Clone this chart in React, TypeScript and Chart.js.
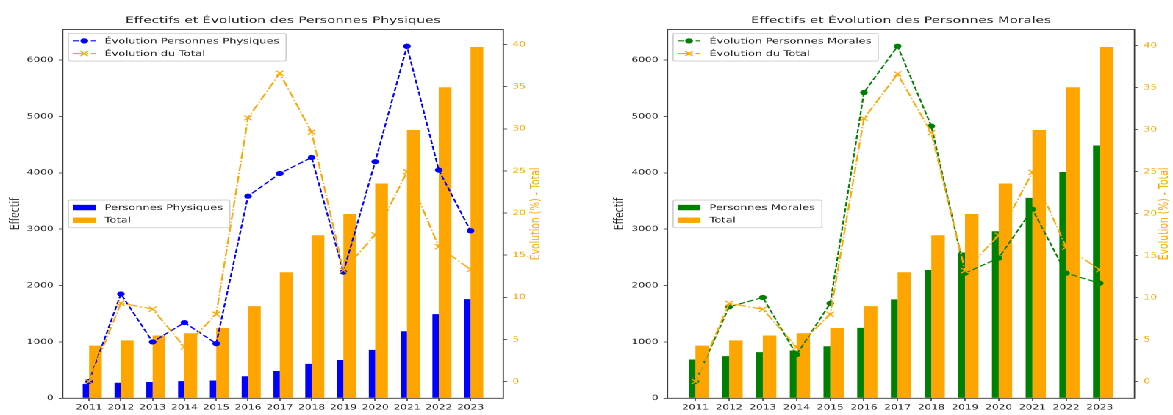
import React, { useEffect, useRef } from "react";
import { Chart, registerables } from "chart.js";

Chart.register(...registerables);

// ---------- data ----------
const YEARS = [2011, 2012, 2013, 2014, 2015, 2016, 2017, 2018, 2019, 2020, 2021, 2022, 2023];
const PP_COUNTS = [255, 275, 290, 305, 315, 390, 485, 610, 680, 858, 1190, 1492, 1760];
const PM_COUNTS = [688, 747, 818, 847, 923, 1250, 1755, 2275, 2585, 2962, 3555, 4015, 4485];
const TOTAL_COUNTS = [934, 1028, 1115, 1153, 1248, 1635, 2235, 2893, 3268, 3810, 4758, 5518, 6230];
const PP_EVOL = [0, 10.4, 4.7, 7.0, 4.5, 22.0, 24.7, 26.6, 13.0, 26.1, 39.8, 25.1, 17.9];
const PM_EVOL = [0, 8.9, 10.0, 3.2, 9.3, 34.4, 39.9, 30.4, 12.9, 14.7, 20.5, 12.9, 11.7];
const TOTAL_EVOL = [0, 9.3, 8.6, 4.1, 8.0, 31.3, 36.6, 29.6, 13.2, 17.4, 24.9, 16.0, 13.3];
const COUNT_TICKS = [0, 1000, 2000, 3000, 4000, 5000, 6000];
const EVOL_TICKS = [0, 5, 10, 15, 20, 25, 30, 35, 40];

const TITLE_PP = "Effectifs et Évolution des Personnes Physiques";
const TITLE_PM = "Effectifs et Évolution des Personnes Morales";
const Y_TITLE = "Effectif";
const Y2_TITLE = "Évolution (%) - Total";
const LBL_PP = "Personnes Physiques";
const LBL_PM = "Personnes Morales";
const LBL_TOTAL = "Total";
const LBL_EVOL_PP = "Évolution Personnes Physiques";
const LBL_EVOL_PM = "Évolution Personnes Morales";
const LBL_EVOL_TOTAL = "Évolution du Total";

// ---------- styling / layout ----------
const PAGE_W = 1173;
const PAGE_H = 415;
const CANVAS_W = 399; // logical width of each canvas
const SX = PAGE_W / (2 * CANVAS_W); // horizontal stretch of the picture
const PT = 0.77; // logical px per point
const FONT = '"DejaVu Sans", "Liberation Sans", sans-serif';
const TEXT = "#222222";
const SPINE = "#3a3a3a";
const BLUE = "#0000ff";
const ORANGE = "#ffa500";
const GREEN = "#008000";
const TICK_SIZE = 7.2;
const LABEL_SIZE = 12 * PT;
const TITLE_SIZE = 12 * PT;
const LEG_SIZE = 10 * PT;
const LW = 1.5 * PT;
const DASHED = [3.7 * LW, 1.6 * LW];
const DASHDOT = [6.4 * LW, 1.6 * LW, 1 * LW, 1.6 * LW];
const AREA_TOP = 29.5;
const AREA_BOTTOM = 398.3;

type PanelSpec = {
  title: string;
  barLabel: string;
  evolLabel: string;
  counts: number[];
  evol: number[];
  color: string;
  canvasLeftPage: number;
  leftPage: number;
  rightPage: number;
  yTitlePage: number;
  y2TitlePage: number;
};

const PANELS: PanelSpec[] = [
  {
    title: TITLE_PP,
    barLabel: LBL_PP,
    evolLabel: LBL_EVOL_PP,
    counts: PP_COUNTS,
    evol: PP_EVOL,
    color: BLUE,
    canvasLeftPage: 0,
    leftPage: 62.7,
    rightPage: 503.3,
    yTitlePage: 15.8,
    y2TitlePage: 535.7,
  },
  {
    title: TITLE_PM,
    barLabel: LBL_PM,
    evolLabel: LBL_EVOL_PM,
    counts: PM_COUNTS,
    evol: PM_EVOL,
    color: GREEN,
    canvasLeftPage: CANVAS_W * SX,
    leftPage: 667.5,
    rightPage: 1134.5,
    yTitlePage: 620,
    y2TitlePage: 1164,
  },
];

type LegendItem = {
  label: string;
  color: string;
  kind: "bar" | "line";
  dash?: number[];
  marker?: "circle" | "cross";
};

function drawMarker(ctx: CanvasRenderingContext2D, marker: string, x: number, y: number, color: string) {
  ctx.save();
  ctx.setLineDash([]);
  if (marker === "circle") {
    ctx.fillStyle = color;
    ctx.beginPath();
    ctx.arc(x, y, 2.6, 0, Math.PI * 2);
    ctx.fill();
  } else {
    const r = 3.6 * Math.SQRT1_2;
    ctx.strokeStyle = color;
    ctx.lineWidth = 1;
    ctx.beginPath();
    ctx.moveTo(x - r, y - r);
    ctx.lineTo(x + r, y + r);
    ctx.moveTo(x - r, y + r);
    ctx.lineTo(x + r, y - r);
    ctx.stroke();
  }
  ctx.restore();
}

function drawLegend(ctx: CanvasRenderingContext2D, area: any, loc: "upper" | "center", items: LegendItem[]) {
  const fs = LEG_SIZE;
  const bp = 0.4 * fs;
  const hl = 2 * fs;
  const htp = 0.8 * fs;
  const ls = 0.5 * fs;
  const bap = 0.5 * fs;
  const rowH = 1.15 * fs;
  ctx.save();
  ctx.font = `${fs}px ${FONT}`;
  let tw = 0;
  for (const it of items) tw = Math.max(tw, ctx.measureText(it.label).width);
  const w = 2 * bp + hl + htp + tw + 0.2 * fs;
  const h = 2 * bp + items.length * rowH + (items.length - 1) * ls;
  const x0 = area.left + bap;
  const y0 = loc === "upper" ? area.top + bap : (area.top + area.bottom) / 2 - h / 2;
  ctx.beginPath();
  if ((ctx as any).roundRect) (ctx as any).roundRect(x0, y0, w, h, 1.5);
  else ctx.rect(x0, y0, w, h);
  ctx.fillStyle = "rgba(255,255,255,0.8)";
  ctx.fill();
  ctx.strokeStyle = "#cccccc";
  ctx.lineWidth = 0.8;
  ctx.stroke();
  items.forEach((it, i) => {
    const cy = y0 + bp + rowH / 2 + i * (rowH + ls);
    const hx = x0 + bp;
    if (it.kind === "bar") {
      ctx.fillStyle = it.color;
      ctx.fillRect(hx, cy - 0.35 * fs, hl, 0.7 * fs);
    } else {
      ctx.save();
      ctx.strokeStyle = it.color;
      ctx.lineWidth = LW;
      ctx.setLineDash(it.dash || []);
      ctx.beginPath();
      ctx.moveTo(hx, cy);
      ctx.lineTo(hx + hl, cy);
      ctx.stroke();
      ctx.restore();
      if (it.marker) drawMarker(ctx, it.marker, hx + hl / 2, cy, it.color);
    }
    ctx.fillStyle = TEXT;
    ctx.textAlign = "left";
    ctx.textBaseline = "middle";
    ctx.fillText(it.label, hx + hl + htp, cy + 0.5);
  });
  ctx.restore();
}

function buildConfig(p: PanelSpec): any {
  const canvasLeft = p.canvasLeftPage / SX;
  const areaLeft = p.leftPage / SX - canvasLeft;
  const areaRight = p.rightPage / SX - canvasLeft;
  const yTitleX = p.yTitlePage / SX - canvasLeft;
  const y2TitleX = p.y2TitlePage / SX - canvasLeft;

  const xLo = YEARS[0] - 0.2;
  const xHi = YEARS[YEARS.length - 1] + 0.4;
  const xPad = (xHi - xLo) * 0.05;
  const yMax = Math.max(...TOTAL_COUNTS, ...p.counts) * 1.05;
  const allEvol = [...p.evol, ...TOTAL_EVOL];
  const eMin = Math.min(...allEvol);
  const eMax = Math.max(...allEvol);
  const ePad = (eMax - eMin) * 0.05;
  const tickFont = { family: FONT, size: TICK_SIZE };
  const tickLength = 3.5 * PT;
  const labelLine = LABEL_SIZE * 1.2;
  const titleLine = TITLE_SIZE * 1.2;
  const titleCenter = 20.5;
  const titlePadTop = titleCenter - titleLine / 2;
  const titlePadBottom = AREA_TOP - titlePadTop - titleLine;

  const decor = {
    id: "decor",
    afterDraw(chart: any) {
      const ctx: CanvasRenderingContext2D = chart.ctx;
      const a = chart.chartArea;
      ctx.save();
      ctx.strokeStyle = SPINE;
      ctx.lineWidth = 0.9;
      ctx.setLineDash([]);
      ctx.strokeRect(a.left, a.top, a.right - a.left, a.bottom - a.top);
      ctx.fillStyle = ORANGE;
      ctx.font = `${LABEL_SIZE}px ${FONT}`;
      ctx.textAlign = "center";
      ctx.textBaseline = "middle";
      ctx.translate(y2TitleX, (a.top + a.bottom) / 2);
      ctx.rotate(-Math.PI / 2);
      ctx.fillText(Y2_TITLE, 0, 0);
      ctx.restore();
      drawLegend(ctx, a, "upper", [
        { label: p.evolLabel, color: p.color, kind: "line", dash: DASHED, marker: "circle" },
        { label: LBL_EVOL_TOTAL, color: ORANGE, kind: "line", dash: DASHDOT, marker: "cross" },
      ]);
      drawLegend(ctx, a, "center", [
        { label: p.barLabel, color: p.color, kind: "bar" },
        { label: LBL_TOTAL, color: ORANGE, kind: "bar" },
      ]);
    },
  };

  return {
    type: "bar",
    data: {
      datasets: [
        {
          type: "bar",
          label: p.barLabel,
          data: YEARS.map((x, i) => ({ x, y: p.counts[i] })),
          backgroundColor: p.color,
          borderWidth: 0,
          categoryPercentage: 0.4,
          barPercentage: 1,
          xAxisID: "x",
          yAxisID: "y",
          order: 2,
        },
        {
          type: "bar",
          label: LBL_TOTAL,
          data: YEARS.map((x, i) => ({ x, y: TOTAL_COUNTS[i] })),
          backgroundColor: ORANGE,
          borderWidth: 0,
          categoryPercentage: 0.8,
          barPercentage: 1,
          xAxisID: "x",
          yAxisID: "y",
          order: 2,
        },
        {
          type: "line",
          label: p.evolLabel,
          data: YEARS.map((x, i) => ({ x, y: p.evol[i] })),
          borderColor: p.color,
          backgroundColor: p.color,
          borderWidth: LW,
          borderDash: DASHED,
          tension: 0,
          fill: false,
          pointStyle: "circle",
          pointRadius: 2.6,
          pointBackgroundColor: p.color,
          pointBorderColor: p.color,
          pointBorderWidth: 0,
          xAxisID: "x",
          yAxisID: "y2",
          order: 1,
        },
        {
          type: "line",
          label: LBL_EVOL_TOTAL,
          data: YEARS.map((x, i) => ({ x, y: TOTAL_EVOL[i] })),
          borderColor: ORANGE,
          backgroundColor: ORANGE,
          borderWidth: LW,
          borderDash: DASHDOT,
          tension: 0,
          fill: false,
          pointStyle: "crossRot",
          pointRadius: 3.6,
          pointBorderColor: ORANGE,
          pointBorderWidth: 1,
          xAxisID: "x",
          yAxisID: "y2",
          order: 0,
        },
      ],
    },
    options: {
      responsive: false,
      maintainAspectRatio: false,
      animation: false,
      devicePixelRatio: 2,
      events: [],
      layout: { padding: 0 },
      plugins: {
        legend: { display: false },
        tooltip: { enabled: false },
        title: {
          display: true,
          text: p.title,
          fullSize: false,
          color: TEXT,
          font: { family: FONT, size: TITLE_SIZE, weight: "normal", lineHeight: 1.2 },
          padding: { top: titlePadTop, bottom: titlePadBottom },
        },
      },
      scales: {
        x: {
          type: "linear",
          position: "bottom",
          min: xLo - xPad,
          max: xHi + xPad,
          offset: false,
          afterBuildTicks: (s: any) => {
            s.ticks = YEARS.map((v) => ({ value: v }));
          },
          afterFit: (s: any) => {
            s.height = PAGE_H - AREA_BOTTOM;
          },
          ticks: {
            font: tickFont,
            color: TEXT,
            padding: 2.3,
            autoSkip: false,
            maxRotation: 0,
            minRotation: 0,
            callback: (v: any) => String(v),
          },
          grid: { display: true, drawOnChartArea: false, offset: false, tickLength, tickColor: SPINE, tickWidth: 0.8 },
          border: { display: false },
        },
        y: {
          type: "linear",
          position: "left",
          min: 0,
          max: yMax,
          afterBuildTicks: (s: any) => {
            s.ticks = COUNT_TICKS.map((v) => ({ value: v }));
          },
          afterFit: (s: any) => {
            s.width = areaLeft;
          },
          ticks: { font: tickFont, color: TEXT, padding: 3.5, callback: (v: any) => String(v) },
          grid: { display: true, drawOnChartArea: false, tickLength, tickColor: SPINE, tickWidth: 0.8 },
          border: { display: false },
          title: {
            display: true,
            text: Y_TITLE,
            color: TEXT,
            font: { family: FONT, size: LABEL_SIZE, lineHeight: 1.2 },
            padding: { top: yTitleX - labelLine / 2, bottom: 0 },
          },
        },
        y2: {
          type: "linear",
          position: "right",
          min: eMin - ePad,
          max: eMax + ePad,
          afterBuildTicks: (s: any) => {
            s.ticks = EVOL_TICKS.map((v) => ({ value: v }));
          },
          afterFit: (s: any) => {
            s.width = CANVAS_W - areaRight;
          },
          ticks: { font: tickFont, color: ORANGE, padding: 3.5, callback: (v: any) => String(v) },
          grid: { display: true, drawOnChartArea: false, tickLength, tickColor: SPINE, tickWidth: 0.8 },
          border: { display: false },
        },
      },
    },
    plugins: [decor],
  };
}

function Panel({ spec }: { spec: PanelSpec }) {
  const ref = useRef<HTMLCanvasElement | null>(null);
  useEffect(() => {
    if (!ref.current) return;
    const chart = new Chart(ref.current, buildConfig(spec));
    return () => chart.destroy();
  }, [spec]);
  const left = spec.canvasLeftPage / SX;
  return (
    <canvas
      ref={ref}
      width={CANVAS_W}
      height={PAGE_H}
      style={{
        position: "absolute",
        left: `${left}px`,
        top: 0,
        width: `${CANVAS_W}px`,
        height: `${PAGE_H}px`,
        display: "block",
      }}
    />
  );
}

export default function App() {
  useEffect(() => {
    document.documentElement.style.overflow = "hidden";
    document.body.style.overflow = "hidden";
  }, []);
  return (
    <div
      style={{
        position: "absolute",
        left: 0,
        top: 0,
        width: `${2 * CANVAS_W}px`,
        height: `${PAGE_H}px`,
        transform: `scaleX(${SX})`,
        transformOrigin: "0 0",
        background: "#ffffff",
      }}
    >
      {PANELS.map((p, i) => (
        <Panel key={i} spec={p} />
      ))}
    </div>
  );
}
